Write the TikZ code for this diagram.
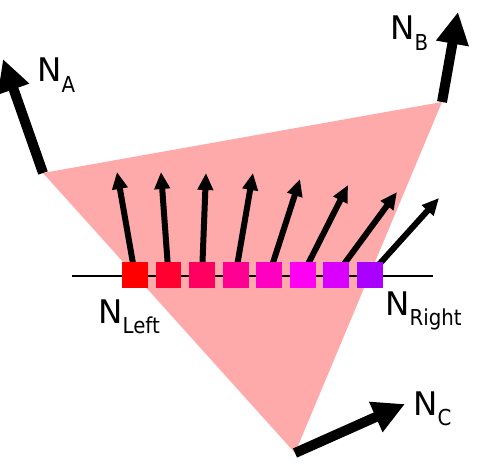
\documentclass[tikz,border=0pt]{standalone}
\usepackage{fontspec}
\setmainfont{DejaVu Sans}
\newfontfamily\subfont{DejaVu Sans Condensed}
\usetikzlibrary{arrows.meta}

\definecolor{facepink}{RGB}{255,170,170}
\definecolor{sqa}{RGB}{255,0,0}
\definecolor{sqb}{RGB}{255,0,49}
\definecolor{sqc}{RGB}{255,0,97}
\definecolor{sqd}{RGB}{255,0,146}
\definecolor{sqe}{RGB}{255,0,194}
\definecolor{sqf}{RGB}{255,0,243}
\definecolor{sqg}{RGB}{218,0,255}
\definecolor{sqh}{RGB}{170,0,255}

\newcommand{\nsub}[1]{N\raisebox{-5.7pt}{\subfont\fontsize{12.5}{14}\selectfont #1}}

\begin{document}
\begin{tikzpicture}[
  x=0.02cm, y=-0.02cm,
  face/.style        = {fill=facepink},
  axis/.style        = {line width=1.2pt},
  cell/.style        = {minimum size=0.52cm, inner sep=0pt},
  bignormal/.style   = {line width=0.2cm, -{Triangle[length=0.64cm, width=0.62cm]}},
  smallnormal/.style = {line width=0.12cm, -{Triangle[length=0.34cm, width=0.3cm]}},
  lab/.style         = {anchor=base west, inner sep=0pt,
                        font=\fontsize{18.5}{20}\selectfont}
]
\useasboundingbox (0,0) rectangle (497,473);

% Triangle
\coordinate (A) at (43,173);
\coordinate (B) at (442,102);
\coordinate (C) at (295,453);
\fill[face] (A) -- (B) -- (C) -- cycle;

% Scan line
\coordinate (lineL) at (72,276);
\coordinate (lineR) at (433,276);
\draw[axis] (lineL) -- (lineR);

% Pixel centres and interpolated normals
\coordinate (c1) at (135,275);
\coordinate (c2) at (168.5,275);
\coordinate (c3) at (202,275);
\coordinate (c4) at (235.5,275);
\coordinate (c5) at (269,275);
\coordinate (c6) at (302.5,275);
\coordinate (c7) at (336,275);
\coordinate (c8) at (369.5,275);

\coordinate (t1) at (117,172);
\coordinate (t2) at (161,172);
\coordinate (t3) at (206,173);
\coordinate (t4) at (253,173);
\coordinate (t5) at (300,179);
\coordinate (t6) at (348,185);
\coordinate (t7) at (397,192);
\coordinate (t8) at (439,198);

\draw[smallnormal] (c1) -- (t1);
\draw[smallnormal] (c2) -- (t2);
\draw[smallnormal] (c3) -- (t3);
\draw[smallnormal] (c4) -- (t4);
\draw[smallnormal] (c5) -- (t5);
\draw[smallnormal] (c6) -- (t6);
\draw[smallnormal] (c7) -- (t7);
\draw[smallnormal] (c8) -- (t8);

\node[cell, fill=sqa] (q1) at (c1) {};
\node[cell, fill=sqb] (q2) at (c2) {};
\node[cell, fill=sqc] (q3) at (c3) {};
\node[cell, fill=sqd] (q4) at (c4) {};
\node[cell, fill=sqe] (q5) at (c5) {};
\node[cell, fill=sqf] (q6) at (c6) {};
\node[cell, fill=sqg] (q7) at (c7) {};
\node[cell, fill=sqh] (q8) at (c8) {};

% Vertex normals
\coordinate (tA) at (3,59);
\coordinate (tB) at (458,12);
\coordinate (tC) at (405,404);
\draw[bignormal] (A) -- (tA);
\draw[bignormal] (B) -- (tB);
\draw[bignormal] (C) -- (tC);

% Labels
\node[lab] (labA) at (37,82)  {\nsub{A}};
\node[lab] (labB) at (390,40) {\nsub{B}};
\node[lab] (labC) at (413,415) {\nsub{C}};
\node[lab] (labL) at (98,323) {\nsub{Left}};
\node[lab] (labR) at (385,315) {\nsub{Right}};
\end{tikzpicture}
\end{document}
